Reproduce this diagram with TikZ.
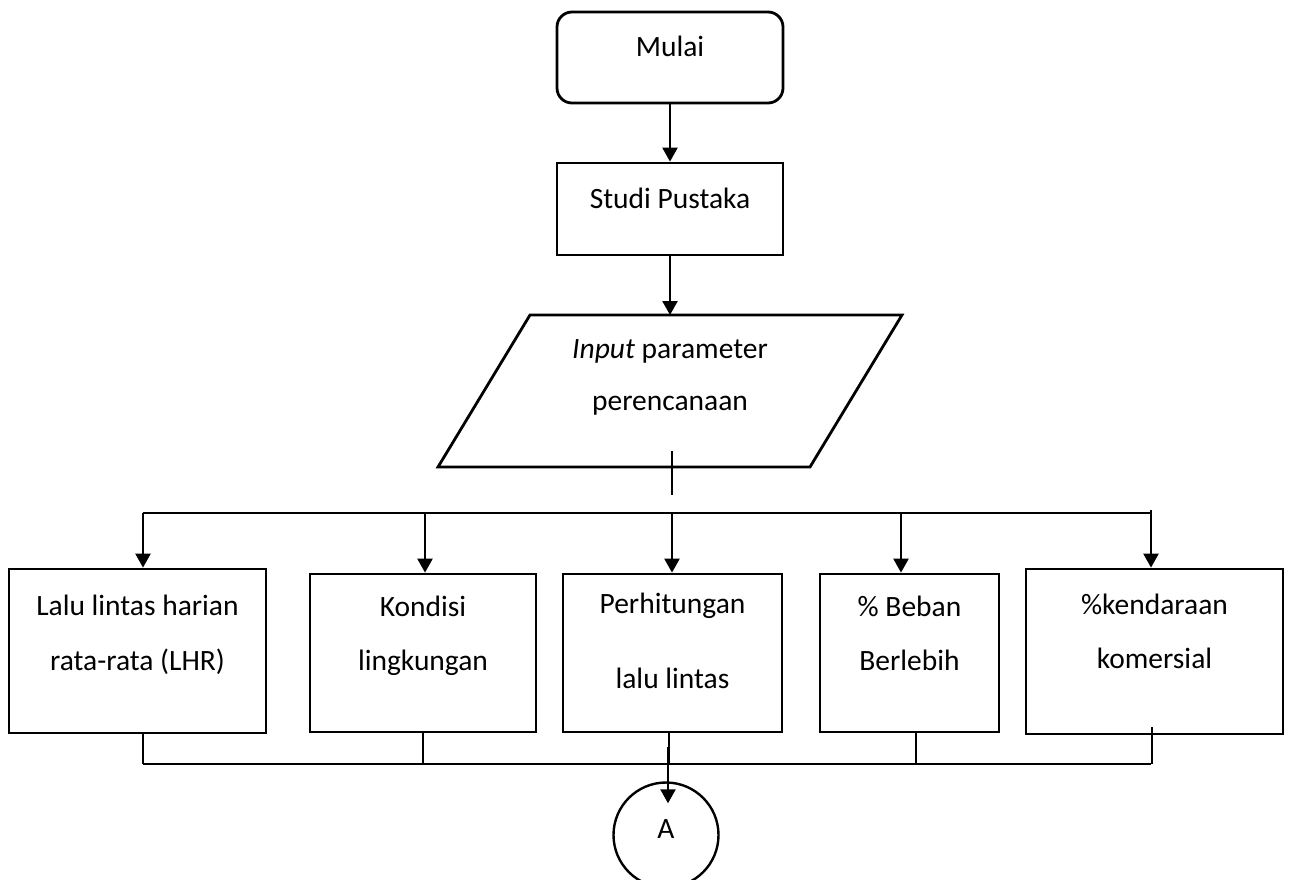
\documentclass[tikz,border=0pt]{standalone}
\usepackage{fontspec}
\setmainfont{Carlito}
\usetikzlibrary{arrows.meta}
\usetikzlibrary{calc}

\begin{document}
\begin{tikzpicture}[x=1pt,y=1pt,
    txt/.style={font=\fontsize{29.5}{34}\selectfont,align=center},
    box/.style={txt,draw,line width=2.8pt,inner sep=0pt},
    startbox/.style={box,rounded corners=15pt},
    flow/.style={line width=2.4pt,-{Triangle[length=14pt,width=15pt]}},
    thin/.style={line width=1.2pt}]
    \useasboundingbox (0,0) rectangle (1290,-879);

    \node[startbox,minimum width=226pt,minimum height=91pt,text height=20pt,text depth=21.6pt] (mulai) at (670,-57.5) {Mulai};
    \node[box,minimum width=226pt,minimum height=92pt,text height=20pt,text depth=21.4pt] (studi) at (670,-209) {Studi Pustaka};
    \draw[flow] (mulai) -- (studi);

    \draw[line width=2.8pt] (438,-467) -- (530,-315) -- (902,-315) -- (810,-467) -- cycle;
    \coordinate (inputtop) at (670,-315);
    \node[txt] (input) at (670,-377.5) {\textit{Input} parameter\\[18.5pt]perencanaan};
    \draw[flow] (studi) -- (inputtop);

    \coordinate (inputout) at (672,-451);
    \coordinate (busup) at (672,-495);
    \draw[thin] (inputout) -- (busup);

    \node[box,minimum width=257pt,minimum height=164pt,text height=75pt,text depth=37pt] (lhr) at (137.5,-651) {Lalu lintas harian\\[21pt]rata-rata (LHR)};
    \node[box,minimum width=226pt,minimum height=158pt,text height=74pt,text depth=40pt] (kondisi) at (423,-653) {Kondisi\\[20pt]lingkungan};
    \node[box,minimum width=219pt,minimum height=158pt,text height=95pt,text depth=25pt] (hitung) at (672.5,-653) {Perhitungan\\[41pt]lalu lintas};
    \node[box,minimum width=179pt,minimum height=158pt,text height=74pt,text depth=40pt] (beban) at (909.5,-653) {\% Beban\\[20pt]Berlebih};
    \node[box,minimum width=257pt,minimum height=165pt,text height=74pt,text depth=41pt] (komersial) at (1154.5,-651.5) {\%kendaraan\\[20pt]komersial};

    \coordinate (bustopl) at (143,-513);
    \coordinate (bustopr) at (1151,-513);
    \draw[thin] (bustopl) -- (bustopr);
    \draw[flow] (bustopl) -- (bustopl |- lhr.north);
    \draw[flow] (425,-513) -- (425,0 |- kondisi.north);
    \draw[flow] (672,-513) -- (672,0 |- hitung.north);
    \draw[flow] (901,-513) -- (901,0 |- beban.north);
    \draw[flow] (1151,-510) -- (1151,0 |- komersial.north);

    \node[txt,circle,draw,line width=2.4pt,minimum size=105pt,inner sep=0pt,text height=19pt,text depth=13pt] (A) at (666,-835) {A};

    \coordinate (busbotl) at (143,-764);
    \coordinate (busbotr) at (1151,-764);
    \draw[thin] (busbotl) -- (busbotr);
    \draw[thin] (143,0 |- lhr.south) -- (busbotl);
    \draw[thin] (423,0 |- kondisi.south) -- (423,-764);
    \draw[thin] (669,0 |- hitung.south) -- (669,-764);
    \draw[thin] (916,0 |- beban.south) -- (916,-764);
    \draw[thin] (1152,-727) -- (1152,-764);
    \draw[flow] (668,-747) -- ([yshift=-22pt]A.north -| 668,0);
\end{tikzpicture}
\end{document}
